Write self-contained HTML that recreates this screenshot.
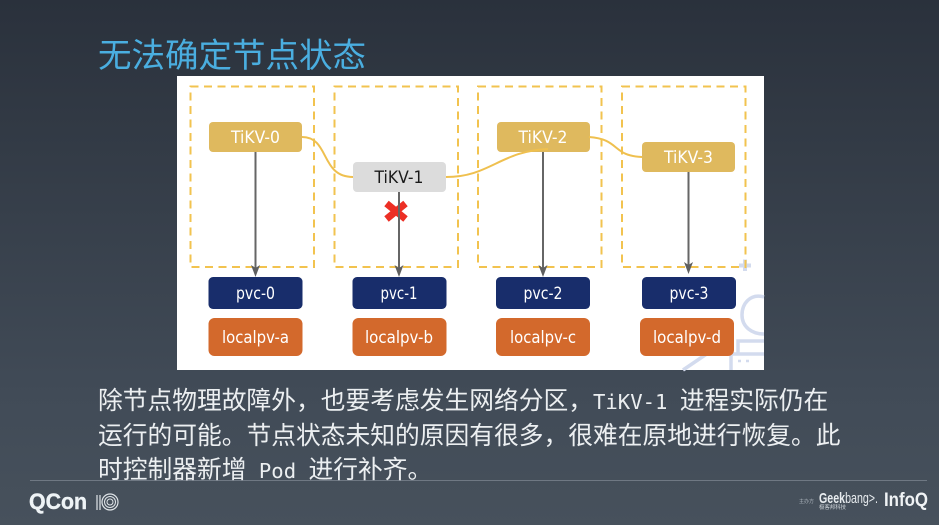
<!DOCTYPE html>
<html><head><meta charset="utf-8">
<style>
html,body{margin:0;padding:0}
body{width:939px;height:525px;overflow:hidden;position:relative;background:linear-gradient(180deg,#2a313c 0%,#323a45 25%,#414b57 75%,#47515c 100%);font-family:"Liberation Sans","WenQuanYi Zen Hei",sans-serif}
.t{position:absolute;white-space:pre;font-family:"WenQuanYi Zen Hei","Noto Sans CJK SC",sans-serif}
.m{font-family:"DejaVu Sans Mono","Liberation Mono",monospace;font-size:20.6px}
svg{position:absolute;left:0;top:0}
</style></head><body>
<div class="t" style="left:98px;top:33px;font-size:33.5px;line-height:40px;color:#4aaee0">无法确定节点状态</div>
<svg width="939" height="525" viewBox="0 0 939 525">
<rect x="177" y="76" width="587" height="294" fill="#fff"/>
<g fill="none" stroke="#d3dbee" stroke-width="3.5">
<path d="M764 297C750 293 742 304 742 315C742 327 752 334 764 334"/>
<path d="M683 370L714 349"/>
<path d="M738 353V341H764M731 370V354H764"/>
</g>
<path d="M738 361H741M746 361H749" stroke="#d3dbee" stroke-width="2.500"/>
<path d="M739 265.500H751M745 259.500V271" stroke="#d3dbee" stroke-width="4" fill="none"/>
<g fill="none" stroke="#f2c34f" stroke-width="2" stroke-dasharray="8 5.500">
<rect x="190.500" y="86.500" width="123.500" height="180.500"/>
<rect x="334.500" y="86.500" width="123.500" height="180.500"/>
<rect x="478" y="86.500" width="123.500" height="180.500"/>
<rect x="622" y="86.500" width="123.500" height="180.500"/>
</g>
<g fill="#dfb95e">
<rect x="209" y="122" width="93" height="30" rx="4"/>
<rect x="497" y="122" width="93" height="30" rx="4"/>
<rect x="642" y="142" width="93" height="30" rx="4"/>
</g>
<rect x="353" y="162" width="93" height="30" rx="4" fill="#dcdcdc"/>
<g fill="none" stroke="#efc04f" stroke-width="2">
<path d="M302 137C330 137 320 177 353 177"/>
<path d="M446 177C490 177 500 151 548 149"/>
<path d="M589 137C620 139 612 156 642 157"/>
</g>
<g fill="#182d6b">
<rect x="208.500" y="277" width="94" height="32" rx="4.500"/>
<rect x="352.500" y="277" width="94" height="32" rx="4.500"/>
<rect x="496" y="277" width="94" height="32" rx="4.500"/>
<rect x="642" y="277" width="94" height="32" rx="4.500"/>
</g>
<g fill="#d3692c">
<rect x="208.500" y="318" width="94" height="38" rx="6"/>
<rect x="352.500" y="318" width="94" height="38" rx="6"/>
<rect x="496" y="318" width="94" height="38" rx="6"/>
<rect x="640" y="318" width="94" height="38" rx="6"/>
</g>
<path d="M386.500 203.500L405.500 219M405.500 203.500L386.500 219" stroke="#ec2f25" stroke-width="7" fill="none"/>
<g stroke="#666" stroke-width="2" fill="none">
<path d="M255.500 152V270"/>
<path d="M399 192V270"/>
<path d="M543 152V270"/>
<path d="M688.500 172V268"/>
</g>
<g fill="#5f5f5f">
<path d="M251 265L255.500 268L260 265L255.500 277Z"/>
<path d="M394.500 265L399 268L403.500 265L399 277Z"/>
<path d="M538.500 265L543 268L547.500 265L543 277Z"/>
<path d="M684 262L688.500 265L693 262L688.500 274Z"/>
</g>
<g font-family="'DejaVu Sans',sans-serif" font-size="17" text-anchor="middle" fill="#fff">
<text x="255.500" y="143" textLength="49" lengthAdjust="spacingAndGlyphs">TiKV-0</text>
<text x="399" y="183" fill="#1a1a1a" textLength="49" lengthAdjust="spacingAndGlyphs">TiKV-1</text>
<text x="543" y="143" textLength="49" lengthAdjust="spacingAndGlyphs">TiKV-2</text>
<text x="688.500" y="163" textLength="49" lengthAdjust="spacingAndGlyphs">TiKV-3</text>
<text x="255.500" y="299" textLength="39" lengthAdjust="spacingAndGlyphs">pvc-0</text>
<text x="399" y="299" textLength="37" lengthAdjust="spacingAndGlyphs">pvc-1</text>
<text x="543" y="299" textLength="39" lengthAdjust="spacingAndGlyphs">pvc-2</text>
<text x="689" y="299" textLength="39" lengthAdjust="spacingAndGlyphs">pvc-3</text>
<text x="255.500" y="343" textLength="67" lengthAdjust="spacingAndGlyphs">localpv-a</text>
<text x="399" y="343" textLength="68" lengthAdjust="spacingAndGlyphs">localpv-b</text>
<text x="543" y="343" textLength="66" lengthAdjust="spacingAndGlyphs">localpv-c</text>
<text x="687" y="343" textLength="68" lengthAdjust="spacingAndGlyphs">localpv-d</text>
</g>
<rect x="30" y="480" width="897" height="1" fill="#6f7883"/>
<text x="29" y="509" font-family="'Liberation Sans',sans-serif" font-weight="700" font-size="22" fill="#eef3f6" stroke="#eef3f6" stroke-width=".4" textLength="58" lengthAdjust="spacingAndGlyphs">QCon</text>
<g fill="none" stroke="#dfe4e8">
<path d="M97 495V510M100 495V510" stroke-width="1.200"/>
<circle cx="110" cy="502" r="8" stroke-width="1.200"/>
<circle cx="110" cy="502" r="5.500" stroke-width="1"/>
<circle cx="110" cy="502" r="3" stroke-width="1"/>
</g>
<text x="799" y="503" font-family="'Noto Sans CJK SC',sans-serif" font-size="5" fill="#aab2ba">主办方</text>
<text x="819" y="503" font-family="'Liberation Sans',sans-serif" font-size="15" fill="#e8ecef" textLength="59" lengthAdjust="spacingAndGlyphs"><tspan font-weight="700">Geek</tspan>bang&gt;.</text>
<text x="819" y="509" font-family="'Noto Sans CJK SC',sans-serif" font-size="5.500" fill="#cfd5da" textLength="27">极客邦科技</text>
<text x="884" y="506" font-family="'Liberation Sans',sans-serif" font-weight="700" font-size="19" fill="#f0f3f5" textLength="44" lengthAdjust="spacingAndGlyphs">InfoQ</text>
</svg>
<div class="t" style="left:98px;top:384px;font-size:24.75px;line-height:30px;color:#eceff1">除节点物理故障外，也要考虑发生网络分区，<span class="m">TiKV-1 </span>进程实际仍在</div>
<div class="t" style="left:98px;top:419px;font-size:24.75px;line-height:30px;color:#eceff1">运行的可能。节点状态未知的原因有很多，很难在原地进行恢复。此</div>
<div class="t" style="left:98px;top:453px;font-size:24.75px;line-height:30px;color:#eceff1">时控制器新增<span class="m"> Pod </span>进行补齐。</div>
</body></html>
